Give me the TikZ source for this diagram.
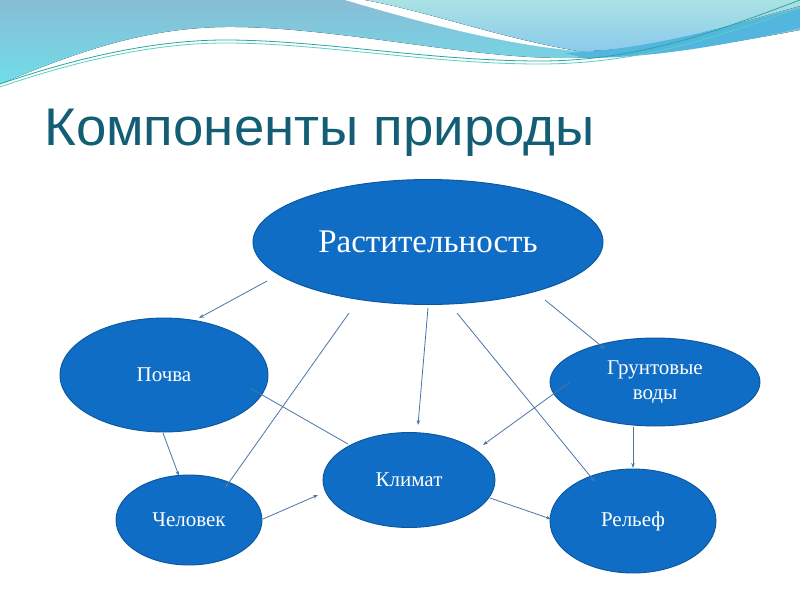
\documentclass[tikz,border=0pt]{standalone}
\usepackage{fontspec}
\usepackage{graphicx}
\setmainfont{Liberation Serif}
\newfontfamily\titlefont{Liberation Sans}
\usetikzlibrary{shapes.geometric,arrows.meta}
\definecolor{nodefill}{HTML}{0F6DC5}
\definecolor{nodeedge}{HTML}{0B569E}
\definecolor{linkcol}{HTML}{4A76A6}
\definecolor{titlecol}{HTML}{135E75}
\definecolor{waveA}{HTML}{88BDD6}
\definecolor{waveB}{HTML}{70DDE9}
\definecolor{waveC}{HTML}{AAE2E4}
\definecolor{waveD}{HTML}{8ACAEC}
\definecolor{waveE}{HTML}{52B6DE}
\definecolor{lineA}{HTML}{2AA69E}
\definecolor{lineB}{HTML}{5ACFC4}
\tikzset{
  bubble/.style={ellipse, draw=nodeedge, line width=0.9pt, fill=nodefill, text=white, inner sep=0pt, align=center},
  link/.style={draw=linkcol, line width=0.8pt, -{Stealth[length=5pt,width=3.6pt]}},
  plainlink/.style={draw=linkcol, line width=0.8pt},
  lbl/.style={font=\fontsize{21}{25}\selectfont}
}
\begin{document}
\begin{tikzpicture}[x=1pt,y=-1pt]
\useasboundingbox (0,0) rectangle (800,600);
\fill[white] (0,0) rectangle (800,600);
% top decoration
\fill[top color=waveA, bottom color=waveB] (0,0) -- (0,84) .. controls (70,55) and (140,28) .. (225,27) .. controls (320,26) and (440,52) .. (530,57) .. controls (620,62) and (720,45) .. (800,30) -- (800,0) -- cycle;
\fill[white] (345,0) .. controls (420,22) and (500,44) .. (578,51) .. controls (500,38) and (430,12) .. (365,0) -- cycle;
\fill[top color=waveC, bottom color=waveD] (365,0) .. controls (430,12) and (500,38) .. (578,51) .. controls (650,52) and (740,22) .. (800,6) -- (800,0) -- cycle;
\fill[waveE] (565,53) .. controls (650,50) and (730,25) .. (800,8) -- (800,28) .. controls (730,45) and (650,58) .. (585,58) -- cycle;
\draw[lineA, line width=0.8pt] (0,84) .. controls (70,60) and (150,40) .. (225,40) .. controls (320,40) and (430,61) .. (540,61) .. controls (640,61) and (720,30) .. (800,0);
\draw[lineB, line width=0.8pt] (0,87) .. controls (70,63) and (150,43) .. (225,43) .. controls (320,43) and (430,64) .. (540,64) .. controls (640,64) and (720,36) .. (800,8);
% title
\node[anchor=base west, inner sep=0pt, text=titlecol, font=\titlefont\fontsize{53}{60}\selectfont] (title) at (44,145) {\scalebox{1.03}[1]{Компоненты природы}};
% nodes
\node[bubble, minimum width=350pt, minimum height=125pt, font=\fontsize{33}{36}\selectfont] (rast) at (428,242) {Растительность};
\node[bubble, minimum width=208pt, minimum height=114pt, lbl] (pochva) at (164,375) {Почва};
\node[bubble, minimum width=210pt, minimum height=88pt, lbl] (grunt) at (655,382) {Грунтовые\\воды};
\node[bubble, minimum width=172pt, minimum height=95pt, lbl] (klimat) at (409,480) {Климат};
\node[bubble, minimum width=146pt, minimum height=90pt, lbl] (chel) at (189,520) {Человек};
\node[bubble, minimum width=166pt, minimum height=104pt, lbl] (relef) at (633,521) {Рельеф};
% connector end points
\coordinate (r1) at (267,281); \coordinate (p1) at (199,318);
\coordinate (r2) at (349,313); \coordinate (c1) at (225,488);
\coordinate (r3) at (428,308); \coordinate (k1) at (418,425);
\coordinate (p2) at (250,388); \coordinate (k2) at (348,444);
\coordinate (r4) at (457,313); \coordinate (e1) at (595,482);
\coordinate (r5) at (545,300); \coordinate (g1) at (605,349);
\coordinate (g2) at (570,382); \coordinate (k3) at (483,445);
\coordinate (g3) at (633,427); \coordinate (e2) at (633,468);
\coordinate (p3) at (163,433); \coordinate (c2) at (179,476);
\coordinate (c3) at (263,519); \coordinate (k4) at (318,495);
\coordinate (k5) at (490,498); \coordinate (e3) at (551,519);
% connectors
\draw[link] (r1) -- (p1);
\draw[link] (r2) -- (c1);
\draw[link] (r3) -- (k1);
\draw[plainlink] (p2) -- (k2);
\draw[link] (r4) -- (e1);
\draw[link] (r5) -- (g1);
\draw[link] (g2) -- (k3);
\draw[link] (g3) -- (e2);
\draw[link] (p3) -- (c2);
\draw[link] (c3) -- (k4);
\draw[link] (k5) -- (e3);
\end{tikzpicture}
\end{document}
